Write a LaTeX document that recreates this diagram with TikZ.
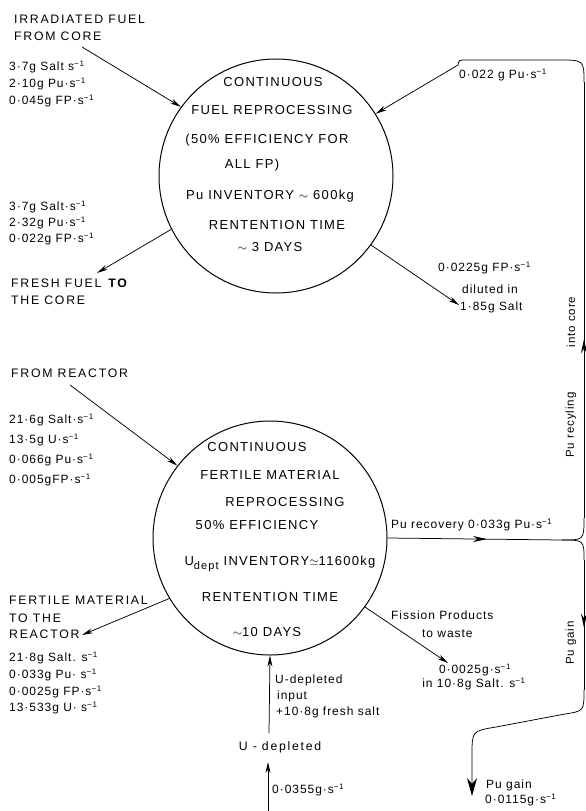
\documentclass[tikz,border=0pt]{standalone}
\usepackage{fontspec}
\setmainfont{Liberation Sans}
\newfontfamily\circfont[LetterSpace=10]{Liberation Sans}
\newfontfamily\capfont[LetterSpace=14]{Liberation Sans}
\newfontfamily\labfont[LetterSpace=8]{Liberation Sans}
\usetikzlibrary{arrows.meta,decorations.markings}
\newcommand{\sinv}{s\textsuperscript{−1}}
\begin{document}
\begin{tikzpicture}[x=1pt,y=-1pt,
  lbl/.style={font=\labfont\fontsize{12}{13}\selectfont, anchor=west, inner sep=0pt},
  capslbl/.style={font=\capfont\fontsize{12.3}{13}\selectfont, anchor=west, inner sep=0pt},
  ctext/.style={font=\circfont\fontsize{13}{14}\selectfont, inner sep=0pt},
  vtext/.style={font=\labfont\fontsize{11.5}{12}\selectfont, inner sep=0pt, rotate=90},
  proc/.style={circle, draw, line width=1pt, minimum size=234pt, inner sep=0pt},
  pipe/.style={line width=0.75pt},
  flow/.style={pipe, -{Stealth[length=11pt,width=5pt]}},
  midarrow/.style={postaction={decorate}, decoration={markings,
      mark=at position #1 with {\arrow{Stealth[length=14pt,width=6pt]}}}}
]
\useasboundingbox (0,0) rectangle (586,811);

% ---------- process vessels ----------
\node[proc] (fuel) at (276,176) {};
\node[proc] (fert) at (270,538) {};

% fuel reprocessing text
\node[ctext] (f1) at (273,82)  {CONTINUOUS};
\node[ctext] (f2) at (272,110) {FUEL REPROCESSING};
\node[ctext] (f3) at (267,140) {(50\% EFFICIENCY FOR};
\node[ctext] (f4) at (252,165) {ALL FP)};
\node[ctext] (f5) at (270,196) {Pu INVENTORY $\sim$ 600kg};
\node[ctext] (f6) at (277,225) {RENTENTION TIME};
\node[ctext] (f7) at (270,247) {$\sim$ 3 DAYS};

% fertile reprocessing text
\node[ctext] (g1) at (257,447) {CONTINUOUS};
\node[ctext] (g2) at (270,475) {FERTILE MATERIAL};
\node[ctext] (g3) at (285,502) {REPROCESSING};
\node[ctext] (g4) at (257,525) {50\% EFFICIENCY};
\node[ctext] (g5) at (280,564) {U\raisebox{-0.6ex}{\fontsize{11}{11}\selectfont dept} INVENTORY$\simeq$11600kg};
\node[ctext] (g6) at (270,597) {RENTENTION TIME};
\node[ctext] (g7) at (267,632) {$\sim$10 DAYS};

% ---------- fuel loop labels ----------
\node[capslbl] (irr1) at (14,19) {IRRADIATED FUEL};
\node[capslbl] (irr2) at (14,36) {FROM CORE};
\node[lbl] (in1) at (9,67)  {3·7g Salt \sinv};
\node[lbl] (in2) at (9,84)  {2·10g Pu·\sinv};
\node[lbl] (in3) at (9,101) {0·045g FP·\sinv};

\node[lbl] (out1) at (9,207) {3·7g Salt·\sinv};
\node[lbl] (out2) at (9,223) {2·32g Pu·\sinv};
\node[lbl] (out3) at (9,239) {0·022g FP·\sinv};
\node[capslbl] (fr1) at (11,283) {FRESH FUEL \textbf{TO}};
\node[capslbl] (fr2) at (11,300) {THE CORE};

\node[lbl] (pu1) at (459,75) {0·022 g Pu·\sinv};

\node[lbl] (fp1) at (438,268) {0·0225g FP·\sinv};
\node[lbl] (fp2) at (462,289) {diluted in};
\node[lbl] (fp3) at (460,307) {1·85g Salt};

\node[vtext] (v1) at (571,322) {into core};
\node[vtext] (v2) at (571,425) {Pu recyling};
\node[vtext] (v3) at (571,643) {Pu gain};

% ---------- fertile loop labels ----------
\node[capslbl] (rea) at (11,373) {FROM REACTOR};
\node[lbl] (r1) at (9,420) {21·6g Salt·\sinv};
\node[lbl] (r2) at (9,440) {13·5g  U·\sinv};
\node[lbl] (r3) at (9,460) {0·066g Pu·\sinv};
\node[lbl] (r4) at (9,480) {0·005gFP·\sinv};

\node[capslbl] (fm1) at (9,600) {FERTILE MATERIAL};
\node[capslbl] (fm2) at (9,618) {TO THE};
\node[capslbl] (fm3) at (9,634) {REACTOR};
\node[lbl] (m1) at (9,658) {21·8g Salt. \sinv};
\node[lbl] (m2) at (9,675) {0·033g Pu· \sinv};
\node[lbl] (m3) at (9,692) {0·0025g FP·\sinv};
\node[lbl] (m4) at (9,708) {13·533g U· \sinv};

\node[lbl] (rec) at (391,525) {Pu recovery  0·033g Pu·\sinv};

\node[lbl] (fis1) at (391,615) {Fission Products};
\node[lbl] (fis2) at (422,634) {to waste};
\node[lbl, anchor=center] (fis3) at (475,670) {0·0025g·\sinv};
\node[lbl, anchor=center] (fis4) at (474,684) {in 10·8g Salt. \sinv};

\node[lbl] (ud1) at (275,680) {U-depleted};
\node[lbl] (ud2) at (277,696) {input};
\node[lbl] (ud3) at (276,712) {+10·8g fresh salt};
\node[capslbl, anchor=center] (ud4) at (280,747) {U - depleted};
\node[lbl] (ud5) at (272,790) {0·0355g·\sinv};

\node[lbl] (gain1) at (486,785) {Pu gain};
\node[lbl] (gain2) at (485,800) {0·0115g·\sinv};

% ---------- free ends and bends ----------
\coordinate (irrS)  at (82,47);
\coordinate (freshE) at (97,273);
\coordinate (fpE)   at (459,305);
\coordinate (frS)   at (70,385);
\coordinate (ferE)  at (82,635);
\coordinate (fisE)  at (448,663);
\coordinate (udin)  at (269,733);
\coordinate (udbot) at (268,811);
\coordinate (udtop) at (268,762);
\coordinate (junc)  at (562,540);
\coordinate (upA)   at (584,518);
\coordinate (upB)   at (584,82);
\coordinate (topR)  at (558,60);
\coordinate (topL)  at (466,60);
\coordinate (dnA)   at (584,560);
\coordinate (dnB)   at (584,690);
\coordinate (gainC) at (565,714);
\coordinate (gainD) at (496,727);
\coordinate (gainE) at (472,755);
\coordinate (gainT) at (472,796);

% ---------- flows ----------
\draw[flow] (irrS) -- (fuel.144.6);
\draw[flow] (fuel.207) -- (freshE);
\draw[flow] (fuel.-36.3) -- (fpE);
\draw[flow] (frS) -- (fert.142.6);
\draw[flow] (fert.211) -- (ferE);
\draw[flow] (fert.-36) -- (fisE);
\draw[flow] (udin) -- (fert.-90);
\draw[flow] (udbot) -- (udtop);

% plutonium recovery, recycle and gain
\draw[pipe, midarrow=0.57] (fert.0) -- (junc);
\draw[pipe] (junc) .. controls (584,540) .. (upA);
\draw[pipe, midarrow=0.41] (upA) -- (upB);
\draw[flow] (upB) .. controls (584,60) .. (topR) -- (topL)
  .. controls (459,60) .. (458,65) -- (fuel.32.5);
\draw[pipe] (junc) .. controls (584,540) .. (dnA);
\draw[pipe, midarrow=0.52] (dnA) -- (dnB);
\draw[pipe, -{Stealth[length=18pt,width=10pt]}] (dnB) .. controls (584,711) .. (gainC)
  -- (gainD) .. controls (472,731) .. (gainE) -- (gainT);
\end{tikzpicture}
\end{document}
